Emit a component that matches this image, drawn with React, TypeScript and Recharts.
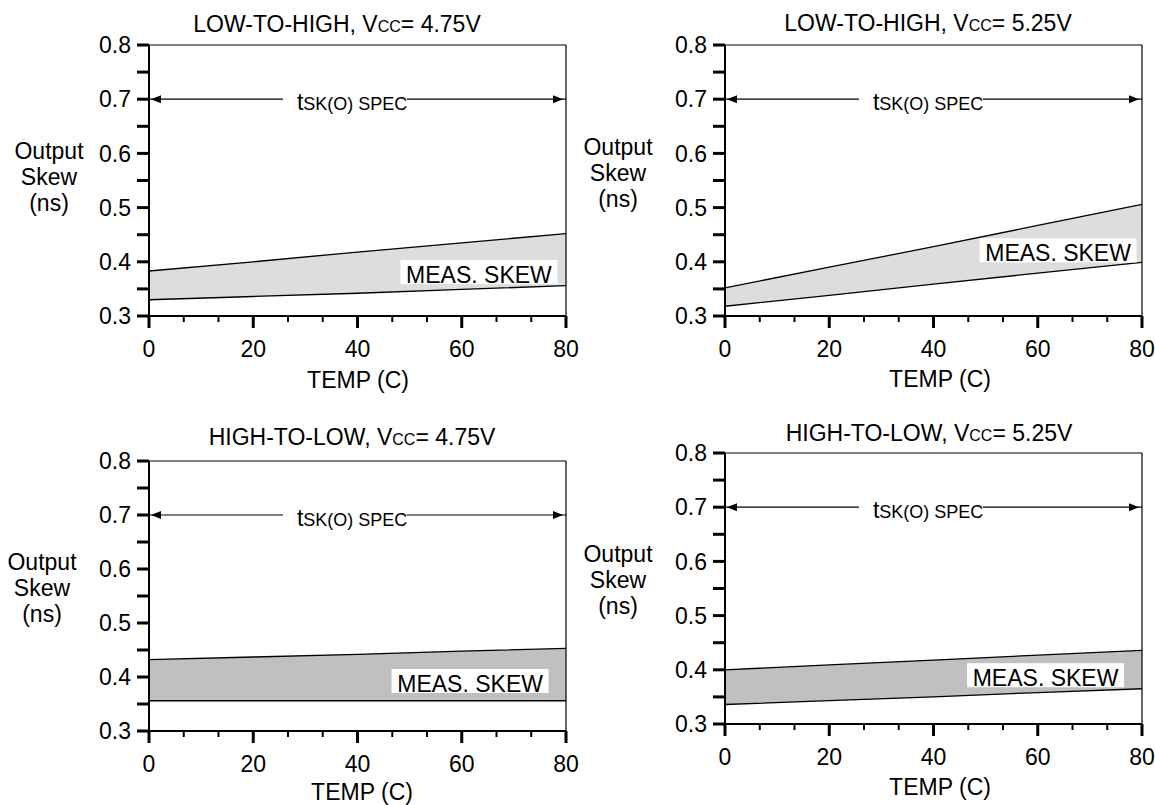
import { ComposedChart, Area, XAxis, YAxis, ReferenceLine, ReferenceDot } from 'recharts';

const FONT = '"Liberation Sans", Arial, Helvetica, sans-serif';

const TEMPS = [0, 20, 40, 60, 80];
const LH_475_UPPER = [0.383, 0.4, 0.418, 0.435, 0.452];
const LH_475_LOWER = [0.33, 0.336, 0.342, 0.349, 0.356];
const LH_525_UPPER = [0.352, 0.39, 0.428, 0.467, 0.506];
const LH_525_LOWER = [0.318, 0.338, 0.359, 0.379, 0.399];
const HL_475_UPPER = [0.432, 0.437, 0.442, 0.448, 0.453];
const HL_475_LOWER = [0.356, 0.356, 0.356, 0.356, 0.356];
const HL_525_UPPER = [0.4, 0.409, 0.418, 0.427, 0.436];
const HL_525_LOWER = [0.336, 0.343, 0.35, 0.358, 0.365];

const Y_TICKS = [0.3, 0.35, 0.4, 0.45, 0.5, 0.55, 0.6, 0.65, 0.7, 0.75, 0.8];
const X_TICKS = [0, 6.67, 13.33, 20, 26.67, 33.33, 40, 46.67, 53.33, 60, 66.67, 73.33, 80];
const SPEC_LEVEL = 0.7;

const XTick = (props: any) => {
  const { x, y, payload } = props;
  const v = payload.value;
  const major = Math.abs(v / 20 - Math.round(v / 20)) < 0.01;
  return (
    <g>
      <line x1={x} y1={y} x2={x} y2={y + (major ? 12 : 6)} stroke="#000" strokeWidth={major ? 3 : 2} />
      {major && (
        <text x={x} y={y + 40.5} textAnchor="middle" fontSize={23} fill="#000">
          {Math.round(v)}
        </text>
      )}
    </g>
  );
};

const yFmt = (v: number) => (Math.round(v * 100) % 10 === 0 ? v.toFixed(1) : '');

const skewBox = (p: any) => (
  <g>
    <rect x={p.cx - 78.5} y={p.cy - 12} width={157} height={24} fill="#fff" />
    <text x={p.cx} y={p.cy + 11} textAnchor="middle" fontSize={23} fill="#000">
      MEAS. SKEW
    </text>
  </g>
);

const specLabel = (p: any) => (
  <g>
    <rect x={p.cx} y={p.cy - 8} width={124} height={20} fill="#fff" />
    <text x={p.cx + 14} y={p.cy + 11} fill="#000">
      <tspan fontSize={23}>t</tspan>
      <tspan fontSize={18}>SK(O) SPEC</tspan>
    </text>
  </g>
);

const leftArrow = (p: any) => (
  <polygon points={`${p.cx + 2},${p.cy} ${p.cx + 12},${p.cy - 4} ${p.cx + 12},${p.cy + 4}`} fill="#000" />
);
const rightArrow = (p: any) => (
  <polygon points={`${p.cx - 3},${p.cy} ${p.cx - 13},${p.cy - 4} ${p.cx - 13},${p.cy + 4}`} fill="#000" />
);

interface PanelProps {
  left: number;
  top: number;
  width: number;
  height: number;
  margin: { top: number; right: number; bottom: number; left: number };
  upper: number[];
  lower: number[];
  fill: string;
  skewAt: { x: number; y: number };
}

function Panel({ left, top, width, height, margin, upper, lower, fill, skewAt }: PanelProps) {
  const data = TEMPS.map((t, i) => ({ t, band: [lower[i], upper[i]] }));
  return (
    <div style={{ position: 'absolute', left, top }}>
      <ComposedChart width={width} height={height} data={data} margin={margin}>
        <XAxis
          dataKey="t"
          type="number"
          domain={[0, 80]}
          ticks={X_TICKS}
          interval={0}
          height={30}
          tickSize={0}
          tickMargin={0}
          tickLine={false}
          axisLine={{ stroke: '#000', strokeWidth: 2 }}
          tick={<XTick />}
        />
        <YAxis
          type="number"
          domain={[0.3, 0.8]}
          ticks={Y_TICKS}
          interval={0}
          width={40}
          tickSize={12}
          tickMargin={6}
          tickFormatter={yFmt}
          tickLine={{ stroke: '#000', strokeWidth: 3 }}
          axisLine={{ stroke: '#000', strokeWidth: 2 }}
          tick={{ fill: '#000', fontSize: 23 }}
        />
        <Area
          dataKey="band"
          type="linear"
          fill={fill}
          fillOpacity={1}
          stroke="#000"
          strokeWidth={1.3}
          isAnimationActive={false}
        />
        <ReferenceLine y={0.8} stroke="#000" strokeWidth={1.2} />
        <ReferenceLine x={80} stroke="#000" strokeWidth={1.2} />
        <ReferenceLine y={SPEC_LEVEL} stroke="#000" strokeWidth={1.2} />
        <ReferenceDot x={0} y={SPEC_LEVEL} r={0} shape={leftArrow} />
        <ReferenceDot x={80} y={SPEC_LEVEL} r={0} shape={rightArrow} />
        <ReferenceDot x={25.7} y={SPEC_LEVEL} r={0} shape={specLabel} />
        <ReferenceDot x={skewAt.x} y={skewAt.y} r={0} shape={skewBox} />
      </ComposedChart>
    </div>
  );
}

const textAt = (x: number, y: number): React.CSSProperties => ({
  position: 'absolute',
  left: x,
  top: y,
  transform: 'translate(-50%, -50%)',
  whiteSpace: 'nowrap',
  fontSize: 23,
  textAlign: 'center',
});

function Title({ x, y, dir, vcc }: { x: number; y: number; dir: string; vcc: string }) {
  return (
    <div style={textAt(x, y)}>
      {dir}, V<span style={{ fontSize: 16 }}>CC</span>= {vcc}
    </div>
  );
}

function YLabel({ x, y }: { x: number; y: number }) {
  return (
    <div style={{ ...textAt(x, y), lineHeight: '26px' }}>
      Output
      <br />
      Skew
      <br />
      (ns)
    </div>
  );
}

function XLabel({ x, y }: { x: number; y: number }) {
  return <div style={{ ...textAt(x, y), lineHeight: 1 }}>TEMP (C)</div>;
}

export default function App() {
  return (
    <div
      style={{
        position: 'absolute',
        left: 0,
        top: 0,
        width: 1155,
        height: 805,
        overflow: 'hidden',
        background: '#fff',
        fontFamily: FONT,
        color: '#000',
      }}
    >
      <Panel
        left={0}
        top={0}
        width={600}
        height={400}
        margin={{ top: 45, right: 34, bottom: 54, left: 109 }}
        upper={LH_475_UPPER}
        lower={LH_475_LOWER}
        fill="#dddddd"
        skewAt={{ x: 63.3, y: 0.381 }}
      />
      <Panel
        left={576}
        top={0}
        width={579}
        height={400}
        margin={{ top: 45, right: 13, bottom: 54, left: 109 }}
        upper={LH_525_UPPER}
        lower={LH_525_LOWER}
        fill="#dddddd"
        skewAt={{ x: 63.9, y: 0.421 }}
      />
      <Panel
        left={0}
        top={400}
        width={600}
        height={405}
        margin={{ top: 61, right: 34, bottom: 44, left: 109 }}
        upper={HL_475_UPPER}
        lower={HL_475_LOWER}
        fill="#c0c0c0"
        skewAt={{ x: 61.6, y: 0.3926 }}
      />
      <Panel
        left={576}
        top={400}
        width={579}
        height={405}
        margin={{ top: 53, right: 13, bottom: 51, left: 109 }}
        upper={HL_525_UPPER}
        lower={HL_525_LOWER}
        fill="#c0c0c0"
        skewAt={{ x: 61.5, y: 0.39 }}
      />

      <Title x={337} y={24} dir="LOW-TO-HIGH" vcc="4.75V" />
      <Title x={928} y={23} dir="LOW-TO-HIGH" vcc="5.25V" />
      <Title x={352} y={437} dir="HIGH-TO-LOW" vcc="4.75V" />
      <Title x={929} y={433} dir="HIGH-TO-LOW" vcc="5.25V" />

      <YLabel x={49} y={177} />
      <YLabel x={618} y={173} />
      <YLabel x={42} y={588} />
      <YLabel x={618} y={580} />

      <XLabel x={358} y={380} />
      <XLabel x={940} y={379} />
      <XLabel x={362} y={792} />
      <XLabel x={940} y={787} />
    </div>
  );
}
